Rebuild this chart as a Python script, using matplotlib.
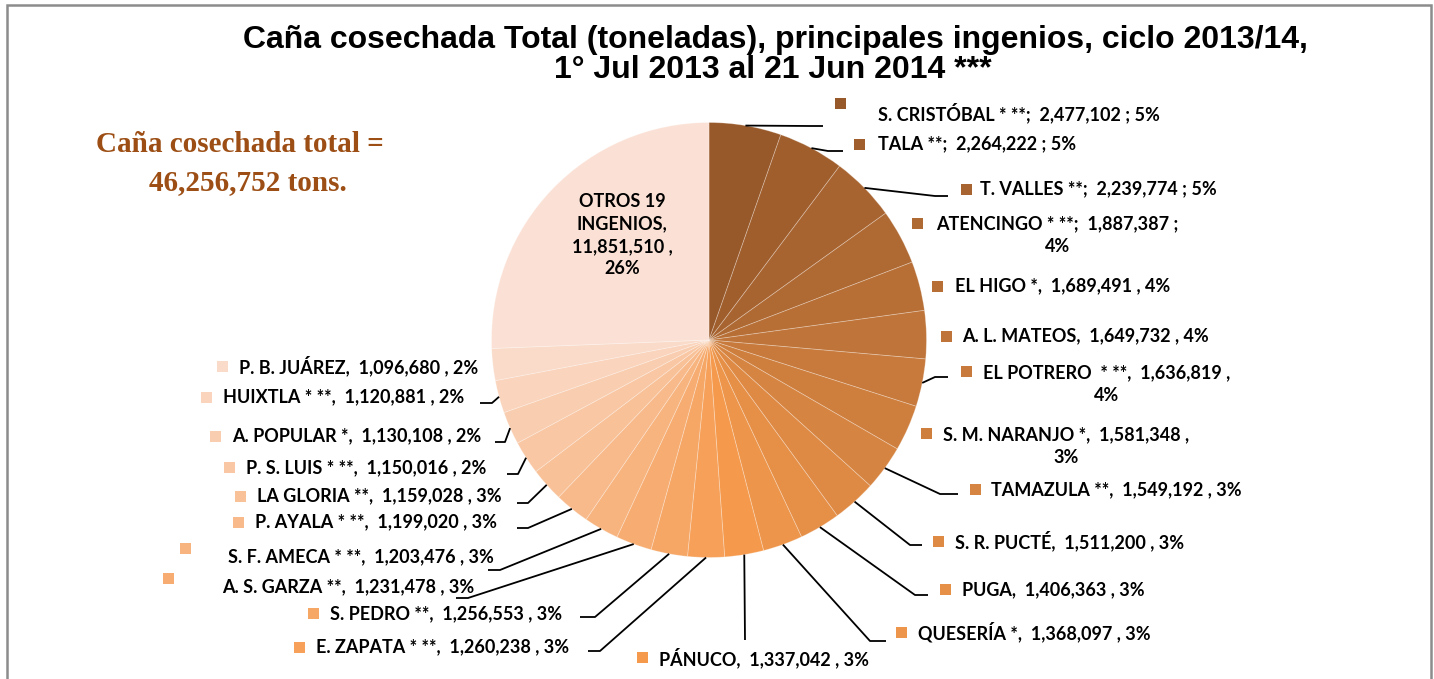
import numpy as np
import matplotlib.pyplot as plt
from matplotlib.colors import to_rgb
from matplotlib.patches import Rectangle

# datos: cana cosechada por ingenio (toneladas), ciclo 2013/14
ingenios = ["S. CRISTÓBAL * **", "TALA **", "T. VALLES **", "ATENCINGO * **",
            "EL HIGO *", "A. L. MATEOS", "EL POTRERO  * **", "S. M. NARANJO *",
            "TAMAZULA **", "S. R. PUCTÉ", "PUGA", "QUESERÍA *", "PÁNUCO",
            "E. ZAPATA * **", "S. PEDRO **", "A. S. GARZA **", "S. F. AMECA * **",
            "P. AYALA * **", "LA GLORIA **", "P. S. LUIS * **", "A. POPULAR *",
            "HUIXTLA * **", "P. B. JUÁREZ", "OTROS 19 INGENIOS"]
toneladas = [2477102, 2264222, 2239774, 1887387, 1689491, 1649732, 1636819,
             1581348, 1549192, 1511200, 1406363, 1368097, 1337042, 1260238,
             1256553, 1231478, 1203476, 1199020, 1159028, 1150016, 1130108,
             1120881, 1096680, 11851510]
total = 46256752
separador = [";"] * 4 + [","] * 20
dos_lineas = [3, 6, 7]

# posiciones de etiquetas en pixeles: texto (x, y) y cuadro de color (x, y)
pos_texto = [(878, 113), (878, 144), (980, 189), (936, 235.5), (955, 286),
             (962, 336), (983, 384), (943, 446), (991, 490), (955, 541),
             (962, 590), (918, 632), (659, 658), (316, 647), (330, 614),
             (222, 587), (228, 557), (255, 522), (257, 496), (246, 468),
             (232, 436), (223, 397), (239, 366), (622, 235)]
pos_cuadro = [(840, 103), (859, 144), (966, 189), (917, 223), (937, 286),
              (946, 336), (966, 371), (926, 433), (975, 489), (938, 541),
              (945, 589), (901, 632), (642, 657), (299, 647), (313, 613),
              (168, 578), (185, 548), (238, 522), (240, 496), (229, 467),
              (215, 436), (206, 397), (222, 366), None]
# lineas guia: codo (x, y) y extremo x
guias = {0: (810, 126, 823), 1: (828, 151, 843), 2: (935, 196, 948),
         6: (935, 377, 948), 8: (940, 494, 958), 9: (910, 545, 922),
         10: (915, 595, 928), 11: (870, 641, 886), 12: (745, 640, 745),
         13: (600, 651, 588), 14: (595, 617, 580), 15: (468, 598, 456),
         16: (500, 570, 488), 17: (528, 528, 517), 18: (528, 503, 517),
         19: (518, 474, 507), 20: (505, 442, 495), 21: (492, 403, 480)}

# paleta monocromatica naranja
def mezcla(c1, c2, t):
    a, b = np.array(to_rgb(c1)), np.array(to_rgb(c2))
    return tuple(a + (b - a) * t)

oscuro, medio, claro = "#98592A", "#F59A4D", "#FBE1D5"
colores = [mezcla(oscuro, medio, i / 12) for i in range(13)] + \
          [mezcla(medio, claro, i / 11) for i in range(1, 12)]

W, H = 1434, 679
fig = plt.figure(figsize=(W / 100, H / 100), dpi=100)
ax = fig.add_axes([0, 0, 1, 1])

cx, cy, r = 709, 340, 217.5
wedges, _ = ax.pie(toneladas, colors=colores, startangle=-90,
                   counterclock=True, center=(cx, cy), radius=r,
                   wedgeprops=dict(edgecolor=(1, 1, 1, 0.3), linewidth=0.6))
ax.set_xlim(0, W)
ax.set_ylim(H, 0)
ax.set_aspect("equal")
ax.axis("off")

fuente = "Lato"
fs = 13
for i, w in enumerate(wedges):
    pct = f"{round(100 * toneladas[i] / total)}%"
    s = separador[i]
    if i == 23:
        txt = f"OTROS 19\nINGENIOS,\n{toneladas[i]:,} ,\n{pct}"
        ax.text(*pos_texto[i], txt, ha="center", va="center", fontsize=fs,
                fontweight="bold", family=fuente, linespacing=1.4)
        continue
    if i in dos_lineas:
        txt = f"{ingenios[i]}{s}  {toneladas[i]:,} {s}\n{pct}"
    else:
        txt = f"{ingenios[i]}{s}  {toneladas[i]:,} {s} {pct}"
    ax.text(*pos_texto[i], txt, ha="left", va="center", multialignment="center",
            fontsize=fs, fontweight="bold", family=fuente, linespacing=1.4)
    mx, my = pos_cuadro[i]
    ax.add_patch(Rectangle((mx - 5.5, my - 5.5), 11, 11, color=colores[i], lw=0))
    if i in guias:
        ang = np.deg2rad((w.theta1 + w.theta2) / 2)
        x0, y0 = cx + r * np.cos(ang), cy + r * np.sin(ang)
        ex, ey, fx = guias[i]
        ax.plot([x0, ex, fx], [y0, ey, ey], color="black", lw=1.3,
                solid_capstyle="butt")

# titulo
ax.text(775, 40, "Caña cosechada Total (toneladas), principales ingenios, ciclo 2013/14,",
        ha="center", va="center", fontsize=23, fontweight="bold",
        family="Liberation Sans")
ax.text(773, 70, "1° Jul 2013 al 21 Jun 2014 ***", ha="center", va="center",
        fontsize=23, fontweight="bold", family="Liberation Sans")

# total
ax.text(240, 145, "Caña cosechada total =", ha="center", va="center",
        fontsize=21, fontweight="bold", family="Liberation Serif", color="#9C4E14")
ax.text(248, 183, f"{total:,} tons.", ha="center", va="center",
        fontsize=21, fontweight="bold", family="Liberation Serif", color="#9C4E14")

# marco
ax.plot([7, 7, 1431, 1431], [H, 5, 5, H], color="#8C8C8C", lw=1.8,
        solid_joinstyle="miter")

fig.savefig("out.png", dpi=100)
